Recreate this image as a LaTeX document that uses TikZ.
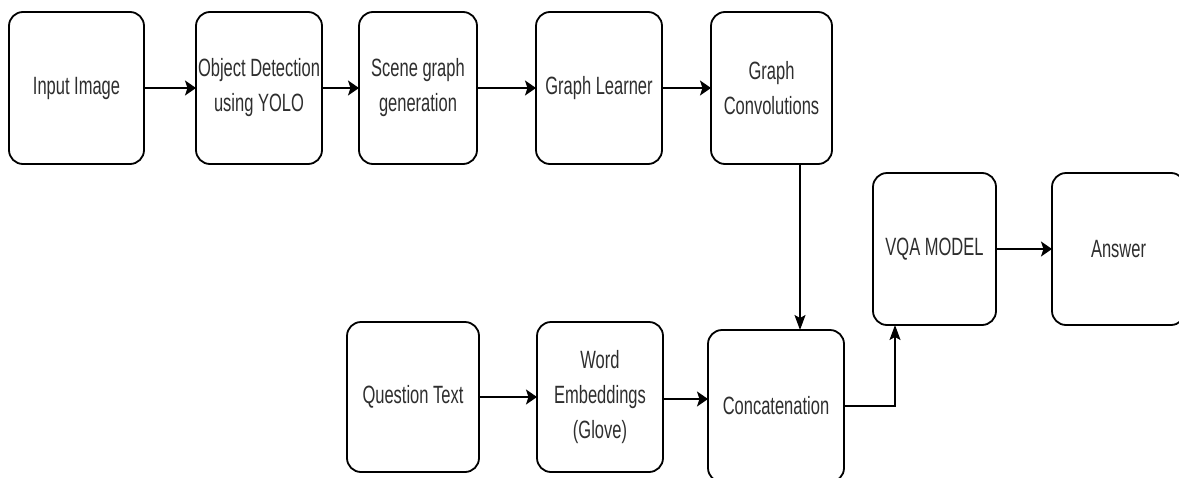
\documentclass[tikz,border=0pt]{standalone}
\usepackage{fontspec}
\newfontfamily\condsans[FakeStretch=0.66]{Liberation Sans}
\usetikzlibrary{arrows.meta,calc}
\definecolor{txt}{HTML}{2E2E2E}
\tikzset{
  box/.style={draw=black, line width=1.8pt, rounded corners=14pt, fill=white,
    inner sep=0pt, outer sep=0pt, align=center, text=txt,
    font=\condsans\fontsize{25}{35}\selectfont},
  arr/.style={line width=1.8pt, -{Stealth[length=11pt,width=15pt,inset=2.5pt]}},
  con/.style={line width=1.4pt, -{Stealth[length=15pt,width=11pt,inset=3pt]}}
}
\begin{document}
\begin{tikzpicture}[x=1pt,y=-1pt]
\useasboundingbox (0,0) rectangle (1179,477);
\clip (0,0) rectangle (1179,477);
% top row
\node[box, minimum width=135pt, minimum height=152pt] (in) at (76.5,88) {Input Image};
\node[box, minimum width=126pt, minimum height=152pt] (od) at (259,88) {Object Detection\\using YOLO};
\node[box, minimum width=118pt, minimum height=152pt] (sg) at (418,88) {Scene graph\\generation};
\node[box, minimum width=126pt, minimum height=152pt] (gl) at (599,88) {Graph Learner};
\node[box, minimum width=121pt, minimum height=152pt] (gc) at (771.5,88) {Graph\\Convolutions};
% right
\node[box, minimum width=123pt, minimum height=152pt] (vqa) at (934.5,249) {VQA MODEL};
\node[box, minimum width=133pt, minimum height=152pt] (ans) at (1118.5,249) {Answer};
% bottom row
\node[box, minimum width=132pt, minimum height=150pt] (qt) at (413,397) {Question Text};
\node[box, minimum width=126pt, minimum height=150pt] (we) at (600,397) {Word\\Embeddings\\(Glove)};
\node[box, minimum width=136pt, minimum height=152pt] (cc) at (776,406) {Concatenation};
% connectors
\draw[arr] (in.east) -- (od.west);
\draw[arr] (od.east) -- (sg.west);
\draw[arr] (sg.east) -- (gl.west);
\draw[arr] (gl.east) -- (gc.west);
\draw[con] ([xshift=89pt]gc.south west) -- ([xshift=92pt]cc.north west);
\draw[arr] (qt.east) -- (qt.east -| we.west);
\draw[arr] ([yshift=-2pt]we.east) -- ([yshift=-2pt]we.east -| cc.west);
\draw[con] (cc.east) -| ([xshift=22pt]vqa.south west);
\draw[arr] (vqa.east) -- (ans.west);
\end{tikzpicture}
\end{document}
